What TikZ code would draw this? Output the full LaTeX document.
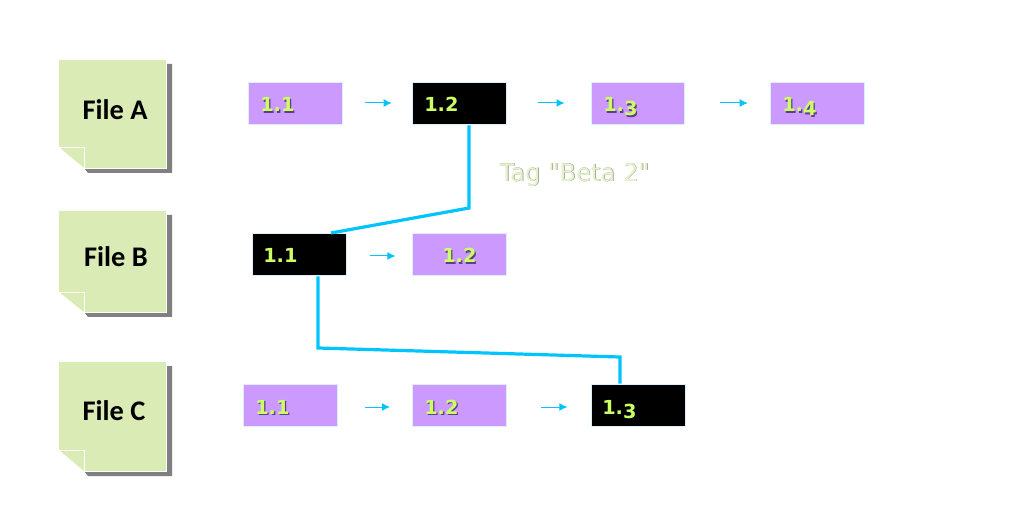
\documentclass[tikz,border=0pt]{standalone}
\usepackage{fontspec}
\setmainfont{Carlito}
\newfontfamily\numfont{DejaVu Sans}
\newfontfamily\tagfont{DejaVu Sans}
\usetikzlibrary{arrows.meta}
\definecolor{notegreen}{HTML}{DAEBB6}
\definecolor{notegray}{HTML}{808080}
\definecolor{verpurple}{HTML}{CC99FF}
\definecolor{verline}{HTML}{DCEFFF}
\definecolor{verlime}{HTML}{CCFF66}
\definecolor{vershadow}{HTML}{5E3F85}
\definecolor{linkblue}{HTML}{00C4FF}
\definecolor{tagtext}{HTML}{E6F2CF}
\definecolor{tagedge}{HTML}{8F9A7C}
% #1 shadow colour, #2 last digit, #3 how far that digit drops
\newcommand{\vernum}[3]{{\numfont\bfseries\fontsize{14.5}{14.5}\selectfont
  \rlap{\hspace{1pt}\raisebox{-1pt}{\textcolor{#1}{1.\raisebox{-#3}{#2}}}}\textcolor{verlime}{1.\raisebox{-#3}{#2}}}}
% #1 top, #2 fold, #3 bottom
\newcommand{\filenote}[3]{%
  \fill[notegray] (166,#1+4) -- (172,#1+4) -- (172,#3+5) -- (88,#3+5) -- (84,#3) -- cycle;
  \fill[notegreen] (59,#1) -- (166,#1) -- (166,#3) -- (84,#3) -- (59,#2) -- cycle;
  \draw[white] (59,#2) -- (84,#2) -- (84,#3) -- (166,#3) -- (166,#1);
}
\tikzset{
  verbox/.style={draw=verline,fill=verpurple,line width=.75pt,minimum width=70pt,minimum height=31.5pt,inner sep=0pt},
  tagged/.style={fill=black},
  vertext/.style={anchor=base west,inner sep=0pt},
  filelabel/.style={font=\fontsize{21.3}{21.3}\selectfont\bfseries,text=black},
  flow/.style={draw=linkblue,line width=.75pt,-{Latex[length=6pt,width=6pt]}},
  link/.style={draw=linkblue,line width=2.4pt,line join=miter},
}
\begin{document}
\begin{tikzpicture}[x=.75pt,y=-.75pt]
  \useasboundingbox (0,0) rectangle (1020,516);

  \filenote{60}{147}{168}
  \filenote{211}{292}{312}
  \filenote{362}{450}{471}
  \node[filelabel] (fileA) at (115,110) {File A};
  \node[filelabel] (fileB) at (116,257) {File B};
  \node[filelabel] (fileC) at (114,411) {File C};

  \node[verbox] (a1) at (295.5,104) {};
  \node[verbox,tagged] (a2) at (459.5,104) {};
  \node[verbox] (a3) at (638,104) {};
  \node[verbox] (a4) at (817.5,104) {};
  \node[verbox,tagged] (b1) at (299.5,255) {};
  \node[verbox] (b2) at (459.5,255) {};
  \node[verbox] (c1) at (290.5,405) {};
  \node[verbox] (c2) at (459.5,405) {};
  \node[verbox,tagged] (c3) at (638.5,405) {};

  \node[vertext] (a1t) at (260,112) {\vernum{vershadow}{1}{0pt}};
  \node[vertext] (a2t) at (424,112) {\vernum{black}{2}{0pt}};
  \node[vertext] (a3t) at (603,112) {\vernum{vershadow}{3}{3pt}};
  \node[vertext] (a4t) at (782,112) {\vernum{vershadow}{4}{3pt}};
  \node[vertext] (b1t) at (263,263) {\vernum{black}{1}{0pt}};
  \node[vertext] (b2t) at (442,263) {\vernum{vershadow}{2}{0pt}};
  \node[vertext] (c1t) at (255,414) {\vernum{vershadow}{1}{0pt}};
  \node[vertext] (c2t) at (424,414) {\vernum{vershadow}{2}{0pt}};
  \node[vertext] (c3t) at (602,414) {\vernum{black}{3}{3pt}};

  \draw[flow,shorten <=17pt,shorten >=15.5pt] ([yshift=.75pt]a1.east) -- ([yshift=.75pt]a2.west);
  \draw[flow,shorten <=23.25pt,shorten >=19.75pt] ([yshift=.75pt]a2.east) -- ([yshift=.75pt]a3.west);
  \draw[flow,shorten <=26pt,shorten >=17pt] ([yshift=.75pt]a3.east) -- ([yshift=.75pt]a4.west);
  \draw[flow,shorten <=17.25pt,shorten >=12.75pt] ([yshift=-.75pt]b1.east) -- ([yshift=-.75pt]b2.west);
  \draw[flow,shorten <=20.25pt,shorten >=16.75pt] ([yshift=-1.5pt]c1.east) -- ([yshift=-1.5pt]c2.west);
  \draw[flow,shorten <=26pt,shorten >=18pt] ([yshift=-1.5pt]c2.east) -- ([yshift=-1.5pt]c3.west);

  % links between the tagged revisions
  \coordinate (bendA) at (469,208);
  \coordinate (endB) at (331,233);
  \coordinate (startB) at (318,276);
  \coordinate (bendB) at (318,348);
  \coordinate (bendC) at (620,357);
  \draw[link] (a2.south -| bendA) -- (bendA) -- (endB);
  \draw[link] (b1.south -| startB) -- (bendB) -- (bendC) -- (c3.north -| bendC);

  \node[font=\tagfont\fontsize{18.2}{18.2}\selectfont,inner sep=0pt] (tag) at (574.5,175)
    {\rlap{\hspace{.5pt}\raisebox{-.5pt}{\textcolor{tagedge}{Tag "Beta 2"}}}\textcolor{tagtext}{Tag "Beta 2"}};
\end{tikzpicture}
\end{document}
